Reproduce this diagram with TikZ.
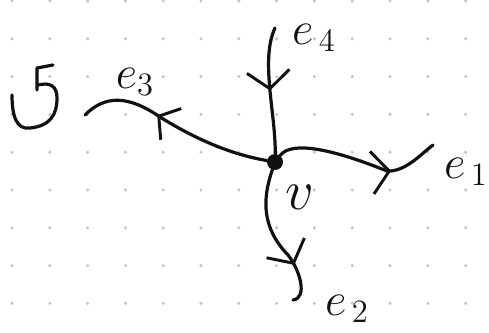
\documentclass[tikz,border=0pt]{standalone}
\usepackage{amsmath,amssymb}
\usepackage{graphicx}
\usepackage{tikz}
\usepackage{xcolor}
\usetikzlibrary{arrows.meta,positioning,calc,decorations.markings}
\definecolor{ink}    {HTML}{111111}
\definecolor{griddot}{HTML}{C4C4C4}
\newcommand{\biglab}[1]{\scalebox{1.7}{#1}}
\tikzset{
  edge/.style    ={draw=ink, line width=2.4pt, line cap=round, line join=round},
  fwdmark/.style ={postaction={decorate,decoration={markings,
                     mark=at position #1 with {\arrow[ink]{Straight Barb[length=13pt,width=32pt,line width=2.2pt]}}}}},
  bwdmark/.style ={postaction={decorate,decoration={markings,
                     mark=at position #1 with {\arrowreversed[ink]{Straight Barb[length=11pt,width=28pt,line width=2.2pt]}}}}},
  vertexdot/.style={circle, fill=ink, minimum size=12pt, inner sep=0pt},
  elabel/.style  ={text=ink, inner sep=0pt, font=\huge},
  vlabel/.style  ={text=ink, inner sep=0pt, font=\Huge},
}

\begin{document}
\begin{tikzpicture}[x=0.75pt,y=-0.75pt]
    \useasboundingbox (0,0) rectangle (489,332);
    % dotted paper
    \foreach \i in {0,...,12}
      \foreach \j in {0,...,8}
        \fill[griddot] (12+37.8*\i,1+37.8*\j) circle (1.7);

    \node[vertexdot] (v) at (275,162) {};
    \coordinate (end1) at (433,145);
    \coordinate (end2) at (293,300);
    \coordinate (end3) at (85,115);
    \coordinate (end4) at (275,28);

    \draw[edge,fwdmark=0.7] (v) .. controls (292,140) and (335,150) .. (387,171)
      .. controls (405,172) and (420,155) .. (end1);
    \draw[edge,fwdmark=0.72] (v) .. controls (262,200) and (262,228) .. (288,255)
      .. controls (300,270) and (308,298) .. (end2);
    \draw[edge,bwdmark=0.4] (end3) .. controls (105,95) and (128,95) .. (160,117)
      .. controls (200,142) and (235,155) .. (v);
    \draw[edge,fwdmark=0.5] (end4) .. controls (260,60) and (276,115) .. (v);

    \node[elabel] (l1) at (466,172) {\biglab{$e_{\,1}$}};
    \node[elabel] (l2) at (347,309) {\biglab{$e_{\,2}$}};
    \node[elabel] (l3) at (135,82) {\biglab{$e_{3}$}};
    \node[elabel] (l4) at (314,38) {\biglab{$e_{\,4}$}};
    \node[vlabel] (lv) at (300,197) {\biglab{$v$}};

    % orientation sign
    \draw[edge] (12,95) .. controls (12,115) and (16,130) .. (30,128)
      .. controls (50,126) and (57,115) .. (57,98)
      .. controls (57,86) and (50,82) .. (38,85);
    \draw[edge] (37,90) -- (37,68) -- (53,65);
  \end{tikzpicture}
\end{document}
